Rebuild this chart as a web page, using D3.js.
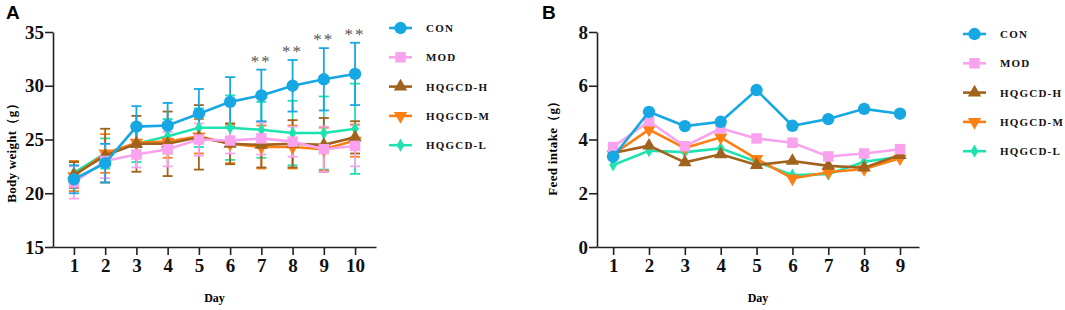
<!DOCTYPE html>
<html>
<head>
<meta charset="utf-8">
<script src="https://cdn.jsdelivr.net/npm/d3@7"></script>
<style>
  body { margin: 0; background: #fff; }
  text { font-family: "Liberation Serif", "Times New Roman", serif; font-weight: bold; }
</style>
</head>
<body>
<div id="chart"></div>
<script>
// Groups and colours
const groups = ["CON", "MOD", "HQGCD-H", "HQGCD-M", "HQGCD-L"]
const colours = ["#17a7e3", "#f9a3ef", "#a0621c", "#fb7f12", "#1ee3b0"]
const symbols = [d3.symbolCircle, d3.symbolSquare, d3.symbolTriangle, "down", d3.symbolDiamond]

// Panel A: body weight (g), days 1-10
const daysA = [1, 2, 3, 4, 5, 6, 7, 8, 9, 10]
const weightCON  = [21.3, 22.8, 26.2, 26.3, 27.4, 28.5, 29.1, 30.0, 30.6, 31.1]
const weightMOD  = [21.0, 23.0, 23.6, 24.1, 25.0, 24.9, 25.1, 24.8, 24.1, 24.4]
const weightH    = [21.7, 23.5, 24.6, 24.6, 25.2, 24.6, 24.5, 24.6, 24.5, 25.2]
const weightM    = [21.6, 23.7, 24.7, 24.8, 25.3, 24.6, 24.3, 24.3, 24.1, 24.9]
const weightL    = [21.9, 23.7, 24.6, 25.3, 26.1, 26.1, 25.9, 25.6, 25.6, 26.0]
const sdCON = [1.3, 1.8, 1.9, 2.1, 2.3, 2.3, 2.4, 2.4, 2.9, 2.9]
const sdMOD = [1.5, 1.6, 1.2, 1.6, 1.5, 1.2, 1.5, 1.4, 2.1, 1.9]
const sdH   = [1.2, 2.5, 2.6, 3.0, 3.0, 1.9, 2.1, 2.2, 2.5, 1.5]
const sdM   = [1.4, 1.8, 1.3, 1.5, 1.6, 1.8, 2.0, 2.0, 2.0, 1.5]
const sdL   = [1.1, 1.4, 1.7, 1.6, 1.8, 3.0, 2.6, 3.0, 3.4, 4.2]
const starsDays = [7, 8, 9, 10]
const ticksA = [15, 20, 25, 30, 35]

// Panel B: feed intake (g), days 1-9
const daysB = [1, 2, 3, 4, 5, 6, 7, 8, 9]
const feedCON = [3.36, 5.03, 4.50, 4.66, 5.84, 4.51, 4.76, 5.14, 4.96]
const feedMOD = [3.72, 4.68, 3.75, 4.41, 4.04, 3.88, 3.37, 3.48, 3.64]
const feedH   = [3.50, 3.77, 3.15, 3.45, 3.05, 3.20, 3.02, 2.95, 3.42]
const feedM   = [3.45, 4.37, 3.68, 4.08, 3.28, 2.55, 2.78, 2.90, 3.30]
const feedL   = [3.05, 3.58, 3.53, 3.67, 3.17, 2.68, 2.71, 3.17, 3.36]
const ticksB = [0, 2, 4, 6, 8]

const weightSeries = [weightCON, weightMOD, weightH, weightM, weightL]
const sdSeries = [sdCON, sdMOD, sdH, sdM, sdL]
const feedSeries = [feedCON, feedMOD, feedH, feedM, feedL]

const svg = d3.select("#chart").append("svg")
    .attr("width", 1065)
    .attr("height", 310)

// marker path for a group index
function marker(i, size) {
    if (symbols[i] === "down") {
        return d3.symbol().type(d3.symbolTriangle).size(size)()
    }
    return d3.symbol().type(symbols[i]).size(size)()
}
const markerSize = [120, 110, 78, 78, 50]
const markerRot = [0, 0, 0, 180, 0]

function drawPanel(opts) {
    const g = svg.append("g")
    const x = d3.scaleLinear().domain(opts.xDomain).range([opts.left, opts.right])
    const y = d3.scaleLinear().domain(opts.yDomain).range([opts.bottom, opts.top])

    // axes
    g.append("g")
        .attr("transform", `translate(0,${opts.bottom})`)
        .call(d3.axisBottom(x).tickValues(opts.days).tickFormat(d3.format("d")).tickSize(8).tickPadding(4).tickSizeOuter(0))
        .call(a => a.selectAll("text").style("font-size", "19px").attr("font-family", null).attr("fill", "#111"))
    g.append("g")
        .attr("transform", `translate(${opts.left},0)`)
        .call(d3.axisLeft(y).tickValues(opts.ticks).tickSize(8).tickPadding(1).tickSizeOuter(0))
        .call(a => a.selectAll("text").style("font-size", "19px").attr("font-family", null).attr("fill", "#111"))
    g.selectAll(".domain, .tick line").attr("stroke", "#222").attr("stroke-width", 1.6)

    // axis titles
    g.append("text")
        .attr("x", (opts.left + opts.right) / 2)
        .attr("y", 302)
        .attr("text-anchor", "middle")
        .style("font-size", "12px")
        .text("Day")
    g.append("text")
        .attr("transform", `translate(${opts.yLabelX},${opts.yLabelY}) rotate(-90)`)
        .attr("text-anchor", "middle")
        .style("font-size", "13px")
        .style("letter-spacing", "0.3px")
        .text(opts.yLabel)

    // panel letter
    g.append("text")
        .attr("x", opts.letterX)
        .attr("y", 19)
        .style("font-family", "'Liberation Sans', Arial, sans-serif")
        .style("font-size", "19px")
        .text(opts.letter)

    const order = [4, 3, 2, 1, 0]
    // error bars
    if (opts.sd) {
        order.forEach(i => {
            const eb = g.append("g").attr("stroke", colours[i]).attr("stroke-width", 1.8)
            opts.days.forEach((d, k) => {
                const v = opts.series[i][k], s = opts.sd[i][k]
                const cx = x(d)
                eb.append("line").attr("x1", cx).attr("x2", cx).attr("y1", y(v - s)).attr("y2", y(v + s))
                eb.append("line").attr("x1", cx - 5).attr("x2", cx + 5).attr("y1", y(v - s)).attr("y2", y(v - s))
                eb.append("line").attr("x1", cx - 5).attr("x2", cx + 5).attr("y1", y(v + s)).attr("y2", y(v + s))
            })
        })
    }

    // lines and markers
    const line = d3.line().x((d, k) => x(opts.days[k])).y(d => y(d))
    order.forEach(i => {
        g.append("path")
            .datum(opts.series[i])
            .attr("d", line)
            .attr("fill", "none")
            .attr("stroke", colours[i])
            .attr("stroke-width", 2.6)
        g.selectAll(null)
            .data(opts.series[i])
            .enter()
            .append("path")
            .attr("d", marker(i, markerSize[i]))
            .attr("transform", (d, k) => `translate(${x(opts.days[k])},${y(d)}) rotate(${markerRot[i]})`)
            .attr("fill", colours[i])
    })

    // significance stars
    if (opts.stars) {
        opts.stars.forEach(d => {
            const k = opts.days.indexOf(d)
            g.append("text")
                .attr("x", x(d))
                .attr("y", y(opts.series[0][k] + opts.sd[0][k]) - 3)
                .attr("text-anchor", "middle")
                .attr("fill", "#555")
                .style("font-weight", "normal")
                .style("font-size", "17px")
                .style("letter-spacing", "2px")
                .text("**")
        })
    }

    // legend
    const lg = g.append("g")
    groups.forEach((name, i) => {
        const ly = opts.legendY + i * 29.3
        lg.append("line")
            .attr("x1", opts.legendX).attr("x2", opts.legendX + 23)
            .attr("y1", ly).attr("y2", ly)
            .attr("stroke", colours[i]).attr("stroke-width", 2.6)
        lg.append("path")
            .attr("d", marker(i, markerSize[i]))
            .attr("transform", `translate(${opts.legendX + 11.5},${ly}) rotate(${markerRot[i]})`)
            .attr("fill", colours[i])
        lg.append("text")
            .attr("x", opts.legendX + 37)
            .attr("y", ly + 4)
            .style("font-size", "11px")
            .style("letter-spacing", "1.2px")
            .attr("fill", "#111")
            .text(name)
    })
}

drawPanel({
    left: 53, right: 376, top: 32, bottom: 247,
    xDomain: [0.33, 10.67], yDomain: [15, 35],
    days: daysA, ticks: ticksA, series: weightSeries, sd: sdSeries, stars: starsDays,
    yLabel: "Body weight（g）", yLabelX: 16, yLabelY: 150,
    letter: "A", letterX: 6,
    legendX: 389, legendY: 28
})

drawPanel({
    left: 597, right: 919, top: 32, bottom: 247,
    xDomain: [0.55, 9.53], yDomain: [0, 8],
    days: daysB, ticks: ticksB, series: feedSeries, sd: null, stars: null,
    yLabel: "Feed intake（g）", yLabelX: 557, yLabelY: 145,
    letter: "B", letterX: 542,
    legendX: 963, legendY: 34
})
</script>
</body>
</html>
